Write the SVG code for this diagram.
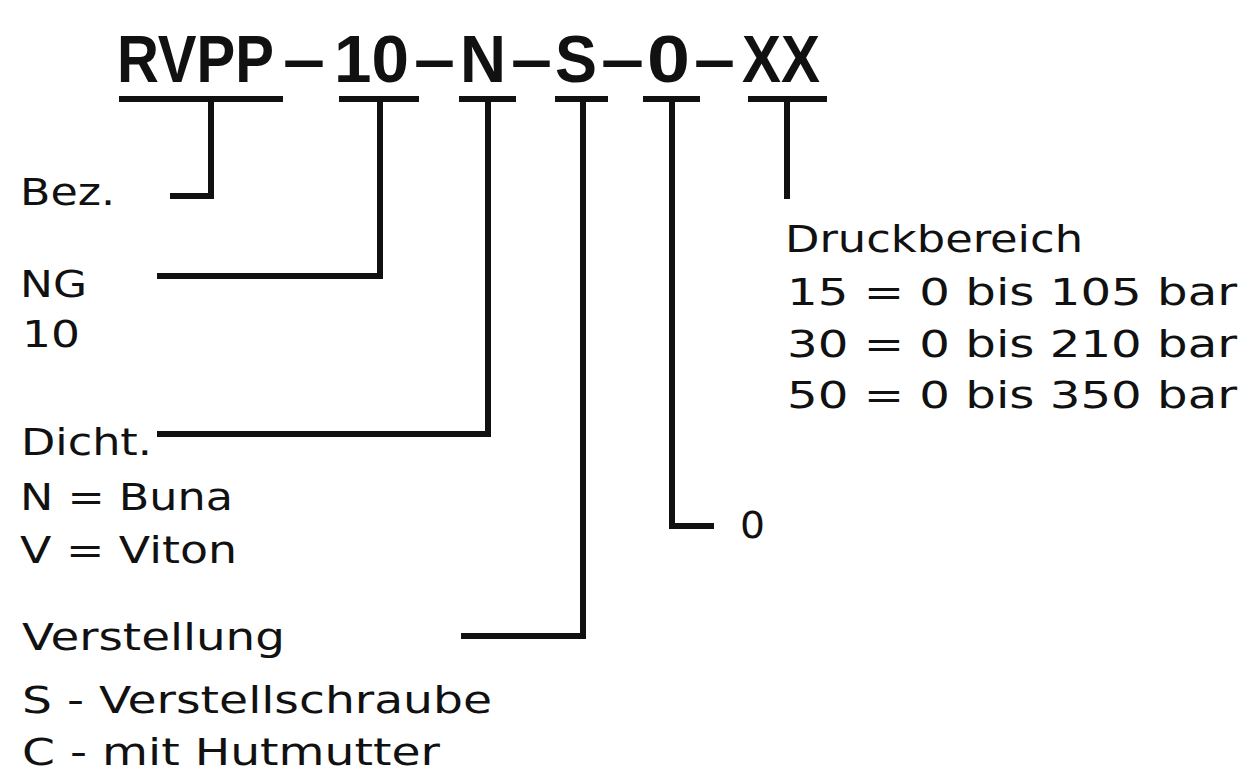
<svg xmlns="http://www.w3.org/2000/svg" width="1239" height="772" viewBox="0 0 1239 772">
<style>
.t{font-family:"DejaVu Sans","Liberation Sans",sans-serif;font-size:38px;fill:#111}
.h{font-family:"Liberation Sans",Arial,sans-serif;font-weight:bold;font-size:66px;fill:#111}
.c line{stroke:#111;stroke-width:6;stroke-linecap:square}
.c polyline{fill:none;stroke:#111;stroke-width:6}
</style>
<rect width="1239" height="772" fill="#fff"/>
<g id="title">
<text class="h" transform="translate(117,82) scale(1,1.14)" x="0" y="0" style="font-size:58px" textLength="157" lengthAdjust="spacingAndGlyphs">RVPP</text>
<text class="h" x="283" y="82" textLength="42" lengthAdjust="spacingAndGlyphs">–</text>
<text class="h" x="334" y="82" textLength="75" lengthAdjust="spacingAndGlyphs">10</text>
<text class="h" x="414" y="82" textLength="41" lengthAdjust="spacingAndGlyphs">–</text>
<text class="h" x="460" y="82" textLength="46" lengthAdjust="spacingAndGlyphs">N</text>
<text class="h" x="511" y="82" textLength="41" lengthAdjust="spacingAndGlyphs">–</text>
<text class="h" x="555" y="82" textLength="42" lengthAdjust="spacingAndGlyphs">S</text>
<text class="h" x="601" y="82" textLength="43" lengthAdjust="spacingAndGlyphs">–</text>
<text class="h" x="647" y="82" textLength="43" lengthAdjust="spacingAndGlyphs">0</text>
<text class="h" x="694" y="82" textLength="41" lengthAdjust="spacingAndGlyphs">–</text>
<text class="h" x="742" y="82" textLength="78" lengthAdjust="spacingAndGlyphs">XX</text>
</g>
<g class="c" id="connectors">
<line x1="122" y1="99" x2="280" y2="99"/>
<line x1="342" y1="99" x2="416" y2="99"/>
<line x1="462" y1="99" x2="513" y2="99"/>
<line x1="558" y1="99" x2="605" y2="99"/>
<line x1="646" y1="99" x2="697" y2="99"/>
<line x1="751" y1="99" x2="824" y2="99"/>
<polyline points="211,100 211,196 170,196"/>
<polyline points="380,100 380,276 157,276"/>
<polyline points="488,100 488,434 157,434"/>
<polyline points="583,100 583,636 461,636"/>
<polyline points="672,100 672,526 714,526"/>
<line x1="787" y1="100" x2="787" y2="196"/>
</g>
<g id="bez"><text class="t" x="20" y="205" textLength="95" lengthAdjust="spacingAndGlyphs">Bez.</text></g>
<g id="ng"><text class="t" x="20" y="297" textLength="67" lengthAdjust="spacingAndGlyphs">NG</text><text class="t" x="22" y="347" textLength="58" lengthAdjust="spacingAndGlyphs">10</text></g>
<g id="dicht"><text class="t" x="21" y="455" textLength="131" lengthAdjust="spacingAndGlyphs">Dicht.</text><text class="t" x="20" y="510" textLength="213" lengthAdjust="spacingAndGlyphs">N = Buna</text><text class="t" x="20" y="563" textLength="217" lengthAdjust="spacingAndGlyphs">V = Viton</text></g>
<g id="verstellung"><text class="t" x="22" y="650" textLength="263" lengthAdjust="spacingAndGlyphs">Verstellung</text><text class="t" x="22" y="713" textLength="470" lengthAdjust="spacingAndGlyphs">S - Verstellschraube</text><text class="t" x="22" y="765" textLength="418" lengthAdjust="spacingAndGlyphs">C - mit Hutmutter</text></g>
<g id="null"><text class="t" x="740" y="538" textLength="25" lengthAdjust="spacingAndGlyphs">0</text></g>
<g id="druck"><text class="t" x="785" y="252" textLength="298" lengthAdjust="spacingAndGlyphs">Druckbereich</text><text class="t" x="787" y="305" textLength="450" lengthAdjust="spacingAndGlyphs">15 = 0 bis 105 bar</text><text class="t" x="787" y="357" textLength="450" lengthAdjust="spacingAndGlyphs">30 = 0 bis 210 bar</text><text class="t" x="787" y="408" textLength="450" lengthAdjust="spacingAndGlyphs">50 = 0 bis 350 bar</text></g>
</svg>
